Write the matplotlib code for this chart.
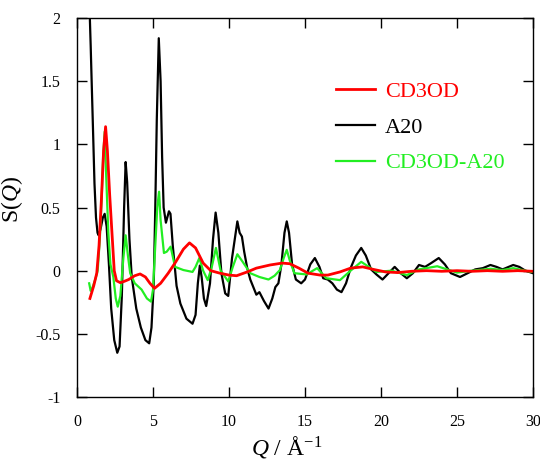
import matplotlib
matplotlib.use("Agg")
import matplotlib.pyplot as plt

# ─── Data ────────────────────────────────────────────────────────────────────
q_a20 = [0.82, 0.9, 0.95, 1.05, 1.15, 1.25, 1.35, 1.42, 1.55, 1.7, 1.82, 1.95,
         2.1, 2.25, 2.45, 2.65, 2.8, 2.95, 3.1, 3.2, 3.3, 3.45, 3.6, 3.9, 4.2,
         4.5, 4.75, 4.9, 5.05, 5.15, 5.25, 5.38, 5.5, 5.6, 5.7, 5.85, 6.05,
         6.15, 6.3, 6.55, 6.8, 7.2, 7.6, 7.8, 7.95, 8.08, 8.2, 8.35, 8.5, 8.75,
         8.95, 9.12, 9.3, 9.5, 9.75, 9.95, 10.2, 10.55, 10.7, 10.85, 11.0,
         11.2, 11.4, 11.8, 12.0, 12.3, 12.6, 12.85, 13.05, 13.25, 13.45, 13.65,
         13.8, 13.95, 14.15, 14.4, 14.75, 15.0, 15.35, 15.65, 15.95, 16.2,
         16.5, 16.8, 17.1, 17.4, 17.7, 18.0, 18.35, 18.7, 19.0, 19.35, 19.7,
         20.1, 20.5, 20.9, 21.3, 21.7, 22.1, 22.5, 22.9, 23.3, 23.8, 24.2,
         24.6, 25.2, 25.7, 26.2, 26.7, 27.2, 27.6, 28.0, 28.4, 28.7, 29.1,
         29.5, 30.0]
s_a20 = [2.1, 1.78, 1.56, 1.13, 0.69, 0.42, 0.3, 0.28, 0.33, 0.42, 0.45, 0.35,
         0.05, -0.3, -0.55, -0.65, -0.6, -0.2, 0.5, 0.86, 0.7, 0.25, -0.05,
         -0.3, -0.45, -0.55, -0.575, -0.45, -0.1, 0.5, 1.2, 1.84, 1.5, 0.9,
         0.5, 0.38, 0.47, 0.45, 0.2, -0.12, -0.26, -0.38, -0.42, -0.35, -0.1,
         0.04, -0.05, -0.22, -0.28, -0.1, 0.25, 0.46, 0.3, -0.02, -0.18, -0.2,
         0.1, 0.39, 0.3, 0.27, 0.15, 0.02, -0.07, -0.19, -0.17, -0.24, -0.3,
         -0.22, -0.13, -0.1, 0.05, 0.3, 0.39, 0.3, 0.05, -0.07, -0.1, -0.07,
         0.05, 0.1, 0.03, -0.06, -0.07, -0.1, -0.15, -0.17, -0.1, 0.02, 0.12,
         0.18, 0.12, 0.01, -0.03, -0.07, -0.02, 0.03, -0.02, -0.06, -0.02,
         0.045, 0.03, 0.06, 0.1, 0.05, -0.02, -0.05, -0.02, 0.01, 0.02, 0.045,
         0.03, 0.01, 0.03, 0.045, 0.03, 0.0, -0.02]

q_cd3od = [0.85, 0.9, 1.1, 1.3, 1.45, 1.6, 1.75, 1.88, 2.0, 2.15, 2.3, 2.45,
           2.6, 2.85, 3.1, 3.4, 3.8, 4.15, 4.5, 4.8, 5.1, 5.5, 6.0, 6.5, 7.0,
           7.4, 7.8, 8.3, 8.8, 9.4, 10.0, 10.5, 11.2, 11.8, 12.7, 13.5, 14.0,
           14.6, 15.2, 16.0, 16.5, 17.3, 18.0, 18.8, 19.5, 20.3, 21.1, 22.0,
           23.0, 24.0, 25.0, 26.0, 27.0, 28.0, 29.0, 30.0]
s_cd3od = [-0.22, -0.2, -0.12, -0.02, 0.2, 0.55, 0.95, 1.14, 0.95, 0.6, 0.3,
           0.0, -0.08, -0.095, -0.085, -0.07, -0.04, -0.026, -0.05, -0.1,
           -0.14, -0.1, -0.02, 0.07, 0.17, 0.22, 0.18, 0.06, 0.0, -0.02,
           -0.035, -0.04, -0.01, 0.02, 0.045, 0.06, 0.055, 0.02, -0.02, -0.035,
           -0.035, -0.01, 0.02, 0.03, 0.01, -0.01, -0.015, -0.005, 0.0, -0.005,
           0.0, -0.005, 0.0, -0.005, 0.0, -0.005]

q_diff = [0.8, 0.9, 1.0, 1.2, 1.36, 1.5, 1.62, 1.72, 1.82, 1.92, 2.06, 2.2,
          2.39, 2.55, 2.68, 2.85, 3.05, 3.2, 3.35, 3.5, 3.8, 4.25, 4.6, 4.87,
          5.0, 5.15, 5.28, 5.4, 5.5, 5.72, 5.9, 6.16, 6.45, 7.0, 7.6, 7.8,
          8.05, 8.3, 8.6, 8.85, 9.14, 9.45, 9.95, 10.25, 10.55, 10.9, 11.4,
          12.0, 12.6, 13.0, 13.35, 13.6, 13.8, 14.0, 14.3, 15.1, 15.8, 16.4,
          17.3, 18.0, 18.7, 19.2, 19.7, 20.7, 21.7, 22.5, 23.7, 25.0, 26.0,
          27.2, 28.0, 28.7, 29.9]
s_diff = [-0.1, -0.16, -0.14, -0.07, 0.0, 0.25, 0.56, 0.9, 1.1, 0.75, 0.3,
          0.05, -0.05, -0.22, -0.285, -0.2, 0.1, 0.28, 0.12, -0.02, -0.1,
          -0.15, -0.22, -0.245, -0.15, 0.2, 0.5, 0.625, 0.4, 0.14, 0.15, 0.19,
          0.03, 0.005, -0.01, 0.03, 0.1, 0.0, -0.075, 0.02, 0.18, 0.0, -0.085,
          0.03, 0.13, 0.07, -0.02, -0.05, -0.07, -0.04, 0.005, 0.1, 0.165,
          0.08, -0.02, -0.03, 0.02, -0.06, -0.075, 0.0, 0.07, 0.03, -0.01, 0.0,
          -0.035, 0.01, 0.035, -0.015, 0.0, 0.015, 0.005, 0.02, -0.01]

x_ticks = [0, 5, 10, 15, 20, 25, 30]
y_ticks = [-1, -0.5, 0, 0.5, 1, 1.5, 2]
y_tick_labels = ["-1", "-0.5", "0", "0.5", "1", "1.5", "2"]

labels = ["CD3OD", "A20", "CD3OD-A20"]
colors = ["#ff0000", "#000000", "#22ee22"]

# ─── Style ───────────────────────────────────────────────────────────────────
plt.rcParams["font.family"] = ["Liberation Serif", "DejaVu Serif"]
plt.rcParams["mathtext.fontset"] = "custom"
plt.rcParams["mathtext.rm"] = "Liberation Serif"
plt.rcParams["mathtext.it"] = "Liberation Serif:italic"
plt.rcParams["axes.unicode_minus"] = False

fig = plt.figure(figsize=(5.4, 4.62), dpi=100)
ax = fig.add_axes([0.1426, 0.1407, 0.8444, 0.8203])

l_a20, = ax.plot(q_a20, s_a20, color=colors[1], lw=1.6)
l_diff, = ax.plot(q_diff, s_diff, color=colors[2], lw=1.6)
l_cd, = ax.plot(q_cd3od, s_cd3od, color=colors[0], lw=2.0)

ax.set_xlim(0, 30)
ax.set_ylim(-1, 2)
ax.set_xticks(x_ticks)
ax.set_xticklabels([str(t) for t in x_ticks])
ax.set_yticks(y_ticks)
ax.set_yticklabels(y_tick_labels)
ax.tick_params(direction="in", length=7, width=1, top=True, right=True,
               labelsize=11.5, pad=12)
for sp in ax.spines.values():
    sp.set_linewidth(1.0)

ax.set_xlabel("$Q$ / Å$^{-1}$", fontsize=17)
ax.xaxis.set_label_coords(0.46, -0.098)
ax.set_ylabel("S($Q$)", fontsize=17)
ax.yaxis.set_label_coords(-0.115, 0.52)

leg = ax.legend([l_cd, l_a20, l_diff], labels, frameon=False, fontsize=16,
                loc="upper left", bbox_to_anchor=(0.525, 0.885),
                handlelength=1.75, handletextpad=0.45, labelspacing=0.68)
for txt, c in zip(leg.get_texts(), colors):
    txt.set_color(c)

fig.savefig("out.png", dpi=100)
